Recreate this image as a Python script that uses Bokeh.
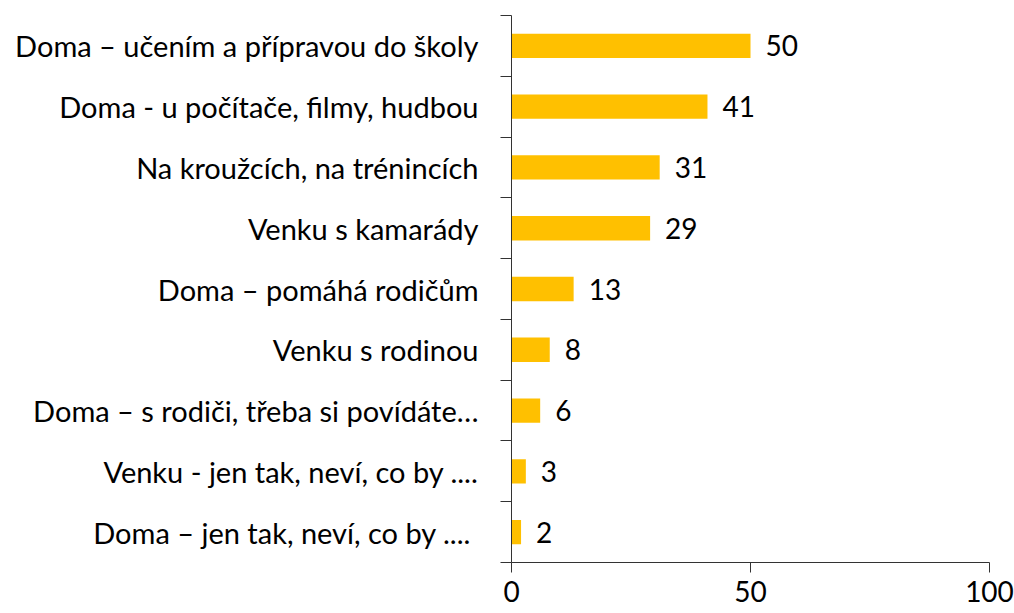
from bokeh.plotting import figure
from bokeh.models import ColumnDataSource, Range1d, FixedTicker
from bokeh.core.properties import value
from bokeh.embed import file_html
from bokeh.resources import INLINE

categories = [
    "Doma – učením a přípravou do školy",
    "Doma - u počítače, filmy, hudbou",
    "Na kroužcích, na trénincích",
    "Venku s kamarády",
    "Doma – pomáhá rodičům",
    "Venku s rodinou",
    "Doma – s rodiči, třeba si povídáte…",
    "Venku - jen tak, neví, co by ....",
    "Doma –  jen tak, neví, co by ....",
]
values = [50, 41, 31, 29, 13, 8, 6, 3, 2]
x_ticks = [0, 50, 100]

FONT = "Lato"
n = len(categories)
ypos = [n - 0.5 - i for i in range(n)]

src = ColumnDataSource(dict(y=ypos, v=values, lab=[str(v) for v in values]))

p = figure(width=1014, height=613, output_backend="svg", toolbar_location=None,
           x_range=Range1d(0, 100), y_range=Range1d(0, n),
           min_border_left=511, min_border_right=25, min_border_top=15, min_border_bottom=51)
p.outline_line_color = None
p.xgrid.visible = False
p.ygrid.visible = False

p.hbar(y="y", right="v", left=0, height=0.4, source=src, color="#FFC000", line_color=None)
p.text(x="v", y="y", text="lab", source=src, x_offset=15, text_baseline="middle",
       text_align="left", text_font=value(FONT), text_font_size="28px", text_color="#000000")

# x axis
p.xaxis.ticker = FixedTicker(ticks=x_ticks, minor_ticks=[])
p.xaxis.major_tick_in = 0
p.xaxis.major_tick_out = 10
p.xaxis.minor_tick_out = 0
p.xaxis.minor_tick_in = 0
p.xaxis.axis_line_color = "#333333"
p.xaxis.major_tick_line_color = "#333333"
p.xaxis.major_label_text_font = FONT
p.xaxis.major_label_text_font_size = "28px"
p.xaxis.major_label_text_color = "#000000"
p.xaxis.major_label_standoff = 8

# y axis
p.yaxis.ticker = FixedTicker(ticks=ypos, minor_ticks=list(range(n + 1)))
p.yaxis.major_label_overrides = {y: c for y, c in zip(ypos, categories)}
p.yaxis.major_tick_in = 0
p.yaxis.major_tick_out = 0
p.yaxis.minor_tick_in = 0
p.yaxis.minor_tick_out = 11
p.yaxis.minor_tick_line_color = "#333333"
p.yaxis.axis_line_color = "#333333"
p.yaxis.major_label_text_font = FONT
p.yaxis.major_label_text_font_size = "29px"
p.yaxis.major_label_text_color = "#000000"
p.yaxis.major_label_standoff = 22

open("out.html", "w").write(file_html(p, INLINE))
